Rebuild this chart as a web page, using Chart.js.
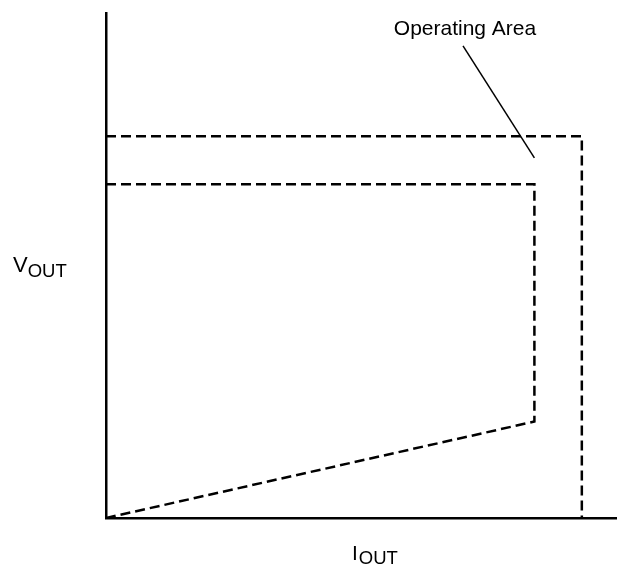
<!DOCTYPE html>
<html>
<head>
<meta charset="utf-8">
<script src="https://cdn.jsdelivr.net/npm/chart.js@4/dist/chart.umd.min.js"></script>
<style>
  html, body { margin: 0; padding: 0; background: #fff; }
  #wrap { position: relative; width: 617px; height: 565px; }
</style>
</head>
<body>
<div id="wrap"><canvas id="soa-chart" width="617" height="565"></canvas></div>
<script>
// axis ranges (arbitrary units, no ticks shown)
const xRange = [0, 100];
const yRange = [0, 100];

// outer dashed boundary: x and y values
const outerX = [0, 93.3, 93.3];
const outerY = [75.6, 75.6, 0];

// inner dashed boundary (with foldback slope)
const innerX = [0, 84.0, 84.0, 0];
const innerY = [66.1, 66.1, 19.1, 0];

// leader line for the annotation
const leaderX = [70.0, 84.0];
const leaderY = [93.5, 71.3];

const annotationText = 'Operating Area';
const yTitle = ['V', 'OUT'];
const xTitle = ['I', 'OUT'];

function toPoints(xs, ys) {
    return xs.map((x, i) => ({ x: x, y: ys[i] }));
}

// draws the annotation and the subscripted axis titles
const labelsPlugin = {
    id: 'labels',
    afterDraw(chart) {
        const ctx = chart.ctx;
        const font = '"Liberation Sans", Arial, sans-serif';
        ctx.save();
        ctx.fillStyle = '#000';
        ctx.textBaseline = 'alphabetic';
        ctx.textAlign = 'left';

        ctx.font = '21px ' + font;
        const w = ctx.measureText(annotationText).width;
        ctx.fillText(annotationText, 465 - w / 2, 35);

        // V OUT
        ctx.font = '22px ' + font;
        ctx.fillText(yTitle[0], 13, 272);
        let vw = ctx.measureText(yTitle[0]).width;
        ctx.font = '18.5px ' + font;
        ctx.fillText(yTitle[1], 13 + vw, 277);

        // I OUT
        ctx.font = '21px ' + font;
        ctx.fillText(xTitle[0], 352, 560);
        let iw = ctx.measureText(xTitle[0]).width;
        ctx.font = '18.5px ' + font;
        ctx.fillText(xTitle[1], 352 + iw + 1, 564);
        ctx.restore();
    }
};

const dashed = {
    showLine: true,
    fill: false,
    borderColor: '#000',
    borderWidth: 2.5,
    borderDash: [10, 5],
    pointRadius: 0,
    tension: 0
};

new Chart(document.getElementById('soa-chart').getContext('2d'), {
    type: 'scatter',
    data: {
        datasets: [
            Object.assign({ label: 'outer', data: toPoints(outerX, outerY) }, dashed),
            Object.assign({ label: 'inner', data: toPoints(innerX, innerY) }, dashed),
            {
                label: 'leader',
                data: toPoints(leaderX, leaderY),
                showLine: true,
                borderColor: '#000',
                borderWidth: 1.5,
                pointRadius: 0
            }
        ]
    },
    options: {
        responsive: false,
        animation: false,
        layout: { padding: { left: 106, top: 13, right: 1, bottom: 47 } },
        plugins: {
            legend: { display: false },
            tooltip: { enabled: false }
        },
        scales: {
            x: {
                type: 'linear',
                min: xRange[0],
                max: xRange[1],
                ticks: { display: false },
                grid: { display: false, drawTicks: false },
                border: { display: true, color: '#000', width: 2.5 }
            },
            y: {
                type: 'linear',
                min: yRange[0],
                max: yRange[1],
                ticks: { display: false },
                grid: { display: false, drawTicks: false },
                border: { display: true, color: '#000', width: 2.5 }
            }
        }
    },
    plugins: [labelsPlugin]
});
</script>
</body>
</html>
